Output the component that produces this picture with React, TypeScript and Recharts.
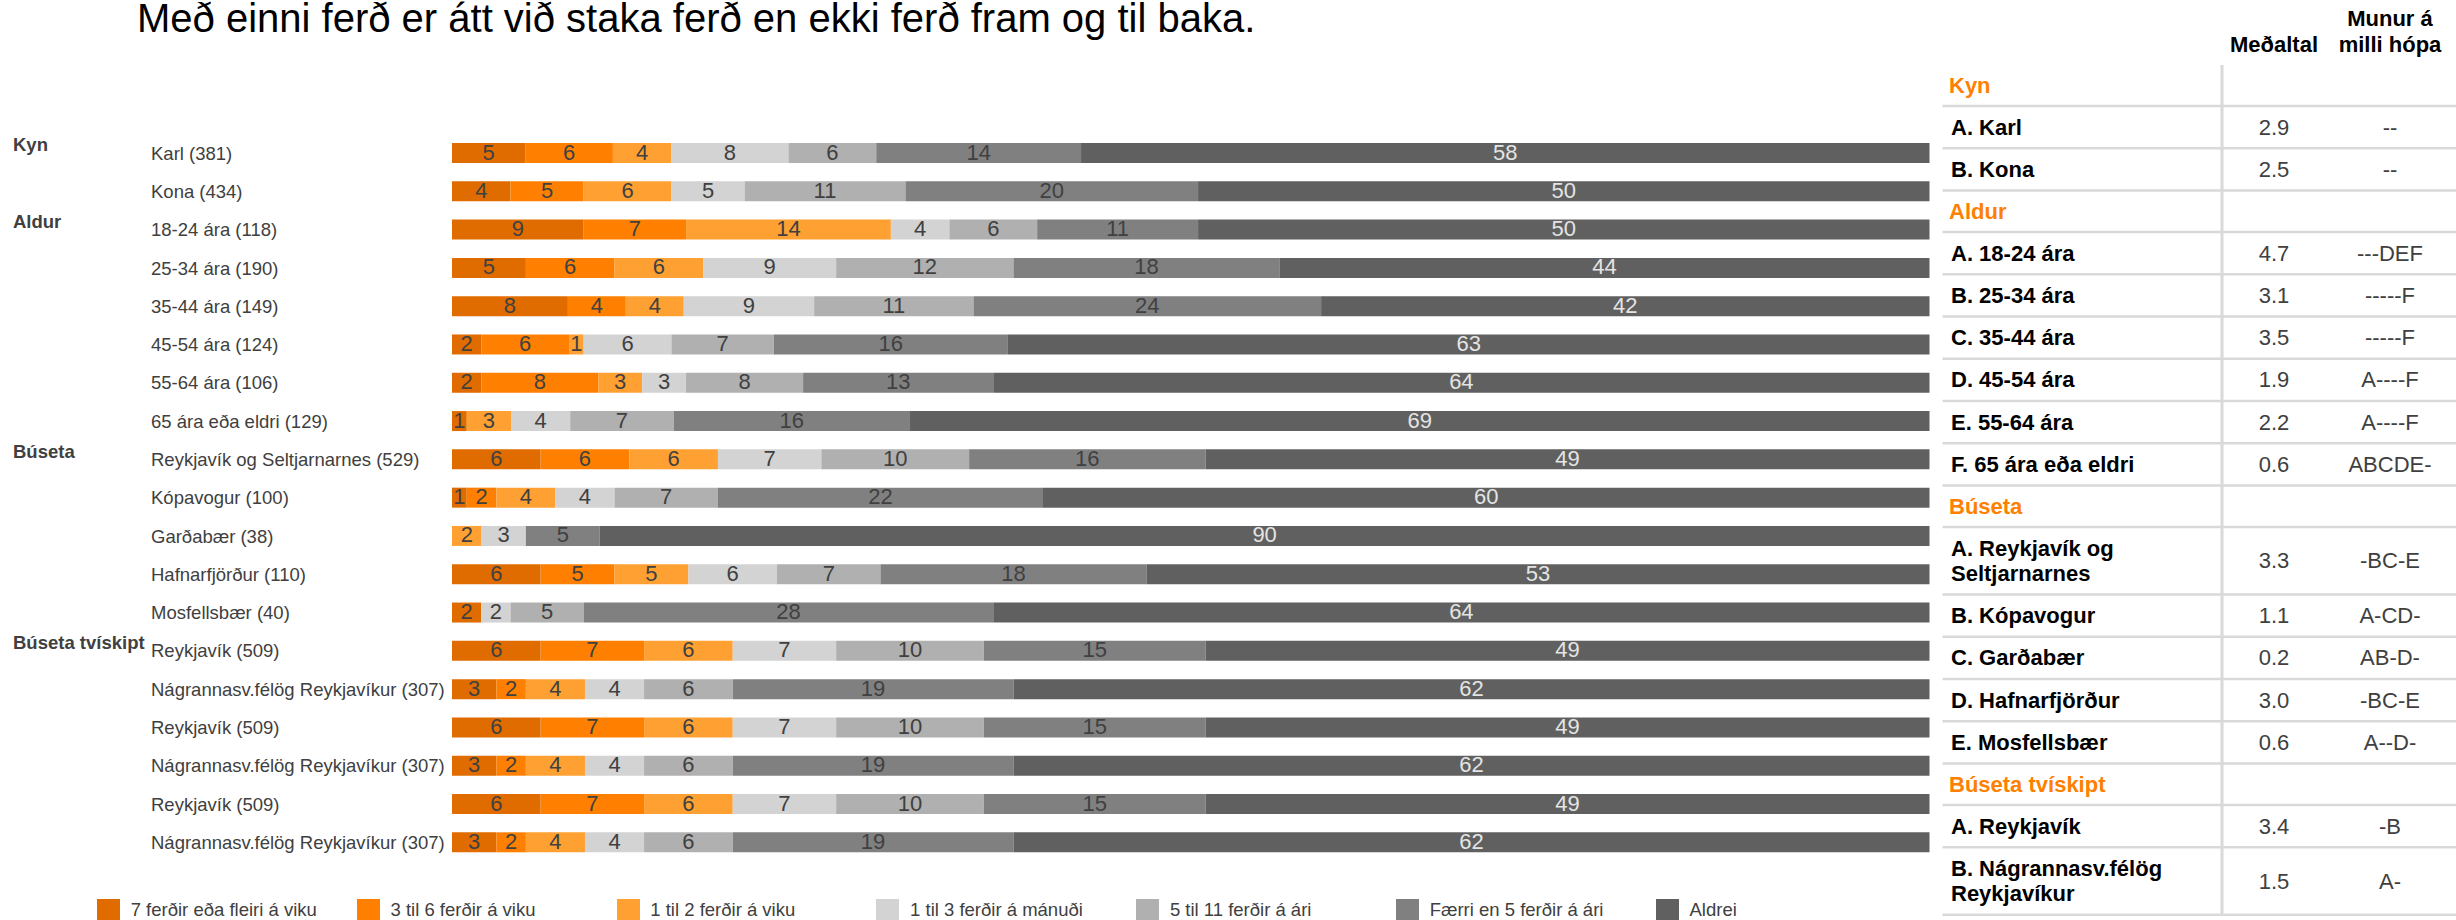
import React from 'react';
import { BarChart, Bar, XAxis, YAxis, LabelList } from 'recharts';

const FONT = '"Liberation Sans", Arial, Helvetica, sans-serif';

const title = 'Með einni ferð er átt við staka ferð en ekki ferð fram og til baka.';

const categories = [
  'Karl (381)', 'Kona (434)', '18-24 ára (118)', '25-34 ára (190)', '35-44 ára (149)',
  '45-54 ára (124)', '55-64 ára (106)', '65 ára eða eldri (129)', 'Reykjavík og Seltjarnarnes (529)',
  'Kópavogur (100)', 'Garðabær (38)', 'Hafnarfjörður (110)', 'Mosfellsbær (40)', 'Reykjavík (509)',
  'Nágrannasv.félög Reykjavíkur (307)', 'Reykjavík (509)', 'Nágrannasv.félög Reykjavíkur (307)',
  'Reykjavík (509)', 'Nágrannasv.félög Reykjavíkur (307)',
];

const groupLabels = [
  'Kyn', '', 'Aldur', '', '', '', '', '', 'Búseta', '', '', '', '', 'Búseta tvískipt', '', '', '', '', '',
];

const seriesNames = [
  '7 ferðir eða fleiri á viku', '3 til 6 ferðir á viku', '1 til 2 ferðir á viku',
  '1 til 3 ferðir á mánuði', '5 til 11 ferðir á ári', 'Færri en 5 ferðir á ári', 'Aldrei',
];
const seriesColors = ['#E06C00', '#FF8000', '#FFA033', '#D3D3D3', '#B0B0B0', '#808080', '#606060'];

const s0 = [5, 4, 9, 5, 8, 2, 2, 1, 6, 1, 0, 6, 2, 6, 3, 6, 3, 6, 3];
const s1 = [6, 5, 7, 6, 4, 6, 8, 0, 6, 2, 0, 5, 0, 7, 2, 7, 2, 7, 2];
const s2 = [4, 6, 14, 6, 4, 1, 3, 3, 6, 4, 2, 5, 0, 6, 4, 6, 4, 6, 4];
const s3 = [8, 5, 4, 9, 9, 6, 3, 4, 7, 4, 3, 6, 2, 7, 4, 7, 4, 7, 4];
const s4 = [6, 11, 6, 12, 11, 7, 8, 7, 10, 7, 0, 7, 5, 10, 6, 10, 6, 10, 6];
const s5 = [14, 20, 11, 18, 24, 16, 13, 16, 16, 22, 5, 18, 28, 15, 19, 15, 19, 15, 19];
const s6 = [58, 50, 50, 44, 42, 63, 64, 69, 49, 60, 90, 53, 64, 49, 62, 49, 62, 49, 62];
const seriesValues = [s0, s1, s2, s3, s4, s5, s6];

// Right-hand table
type TRow = { group?: string; label?: string[]; mean?: string; diff?: string };
const tableRows: TRow[] = [
  { group: 'Kyn' },
  { label: ['A. Karl'], mean: '2.9', diff: '--' },
  { label: ['B. Kona'], mean: '2.5', diff: '--' },
  { group: 'Aldur' },
  { label: ['A. 18-24 ára'], mean: '4.7', diff: '---DEF' },
  { label: ['B. 25-34 ára'], mean: '3.1', diff: '-----F' },
  { label: ['C. 35-44 ára'], mean: '3.5', diff: '-----F' },
  { label: ['D. 45-54 ára'], mean: '1.9', diff: 'A----F' },
  { label: ['E. 55-64 ára'], mean: '2.2', diff: 'A----F' },
  { label: ['F. 65 ára eða eldri'], mean: '0.6', diff: 'ABCDE-' },
  { group: 'Búseta' },
  { label: ['A. Reykjavík og', 'Seltjarnarnes'], mean: '3.3', diff: '-BC-E' },
  { label: ['B. Kópavogur'], mean: '1.1', diff: 'A-CD-' },
  { label: ['C. Garðabær'], mean: '0.2', diff: 'AB-D-' },
  { label: ['D. Hafnarfjörður'], mean: '3.0', diff: '-BC-E' },
  { label: ['E. Mosfellsbær'], mean: '0.6', diff: 'A--D-' },
  { group: 'Búseta tvískipt' },
  { label: ['A. Reykjavík'], mean: '3.4', diff: '-B' },
  { label: ['B. Nágrannasv.félög', 'Reykjavíkur'], mean: '1.5', diff: 'A-' },
];
const tableHeaderMean = 'Meðaltal';
const tableHeaderDiff = ['Munur á', 'milli hópa'];

const rows = categories.map((c, i) => {
  const r: any = { key: `r${i}`, name: c };
  seriesValues.forEach((s, k) => { r[`s${k}`] = s[i]; });
  return r;
});

const CategoryTick = (props: any) => {
  const { y, payload } = props;
  const i = payload?.index ?? 0;
  const g = groupLabels[i];
  return (
    <g>
      {g ? (
        <text x={13} y={y - 8.5} dominantBaseline="central" fontSize={18.5} fontWeight="bold" fill="#404040" fontFamily={FONT}>{g}</text>
      ) : null}
      <text x={151} y={y} dominantBaseline="central" fontSize={18.5} fill="#404040" fontFamily={FONT}>{categories[i]}</text>
    </g>
  );
};

const makeLabel = (k: number) => (props: any) => {
  const { x, y, width, height, value, payload } = props;
  let v: any = payload && payload[`s${k}`] != null ? payload[`s${k}`] : value;
  if (Array.isArray(v)) v = null;
  if (!v || !width) return null;
  return (
    <text
      x={Number(x) + Number(width) / 2}
      y={Number(y) + Number(height) / 2 - 1}
      textAnchor="middle"
      dominantBaseline="central"
      fontSize={22}
      fontFamily={FONT}
      fill={k === 6 ? '#E4E4E4' : '#404040'}
    >
      {v}
    </text>
  );
};

const Table = () => {
  const items: React.ReactNode[] = [];
  let y = 64.5;
  const left = 1942.5;
  const right = 2456;
  const xLabel = 1951;
  const xMean = 2274;
  const xDiff = 2390;
  tableRows.forEach((r, i) => {
    const h = r.group ? 41.5 : (r.label && r.label.length > 1 ? 67.5 : 42.25);
    const cy = y + h / 2;
    if (r.group) {
      items.push(
        <text key={`g${i}`} x={xLabel - 2} y={cy} dominantBaseline="central" fontSize={22} fontWeight="bold" fill="#FF8000" fontFamily={FONT}>{r.group}</text>
      );
    } else if (r.label) {
      const n = r.label.length;
      r.label.forEach((t, j) => {
        items.push(
          <text key={`l${i}_${j}`} x={xLabel} y={cy + (j - (n - 1) / 2) * 25} dominantBaseline="central" fontSize={22} fontWeight="bold" fill="#000" fontFamily={FONT}>{t}</text>
        );
      });
      items.push(
        <text key={`m${i}`} x={xMean} y={cy} textAnchor="middle" dominantBaseline="central" fontSize={22} fill="#404040" fontFamily={FONT}>{r.mean}</text>
      );
      items.push(
        <text key={`d${i}`} x={xDiff} y={cy} textAnchor="middle" dominantBaseline="central" fontSize={22} fill="#404040" fontFamily={FONT}>{r.diff}</text>
      );
    }
    y += h;
    items.push(<line key={`h${i}`} x1={left} x2={right} y1={y} y2={y} stroke="#D9D9D9" strokeWidth={2.5} />);
  });
  items.push(<line key="v" x1={2222} x2={2222} y1={65} y2={y} stroke="#D9D9D9" strokeWidth={3} />);
  return (
    <g>
      <text x={2274} y={44} textAnchor="middle" dominantBaseline="central" fontSize={22} fontWeight="bold" fill="#000" fontFamily={FONT}>{tableHeaderMean}</text>
      <text x={2390} y={18} textAnchor="middle" dominantBaseline="central" fontSize={22} fontWeight="bold" fill="#000" fontFamily={FONT}>{tableHeaderDiff[0]}</text>
      <text x={2390} y={44} textAnchor="middle" dominantBaseline="central" fontSize={22} fontWeight="bold" fill="#000" fontFamily={FONT}>{tableHeaderDiff[1]}</text>
      {items}
    </g>
  );
};

export default function App() {
  return (
    <div style={{ position: 'absolute', left: 0, top: 0, width: 2456, height: 920, overflow: 'hidden', background: '#fff', fontFamily: FONT }}>
      <div style={{ position: 'absolute', left: 0, top: 0 }}>
        <BarChart
          width={1935}
          height={920}
          data={rows}
          layout="vertical"
          stackOffset="expand"
          barSize={20}
          margin={{ top: 134, right: 5.5, bottom: 58.4, left: 0 }}
        >
          <XAxis type="number" hide domain={[0, 1]} />
          <YAxis
            type="category"
            dataKey="key"
            width={452}
            axisLine={false}
            tickLine={false}
            interval={0}
            tick={(p: any) => <CategoryTick {...p} />}
          />
          {seriesNames.map((n, k) => (
            <Bar key={n} dataKey={`s${k}`} name={n} stackId="a" fill={seriesColors[k]} isAnimationActive={false}>
              <LabelList dataKey={`s${k}`} content={makeLabel(k)} />
            </Bar>
          ))}
        </BarChart>
      </div>
      <svg width={2456} height={920} style={{ position: 'absolute', left: 0, top: 0, pointerEvents: 'none' }}>
        <text x={137} y={31.5} fontSize={40} fill="#000" fontFamily={FONT}>{title}</text>
        <Table />
      </svg>
      {seriesNames.map((n, k) => (
        <div key={n} style={{ position: 'absolute', left: 97 + k * 259.8, top: 899, height: 22, display: 'flex', alignItems: 'center' }}>
          <div style={{ width: 23, height: 22, background: seriesColors[k] }} />
          <div style={{ marginLeft: 10.7, fontSize: 18.5, color: '#404040', whiteSpace: 'nowrap', lineHeight: '22px' }}>{n}</div>
        </div>
      ))}
    </div>
  );
}
